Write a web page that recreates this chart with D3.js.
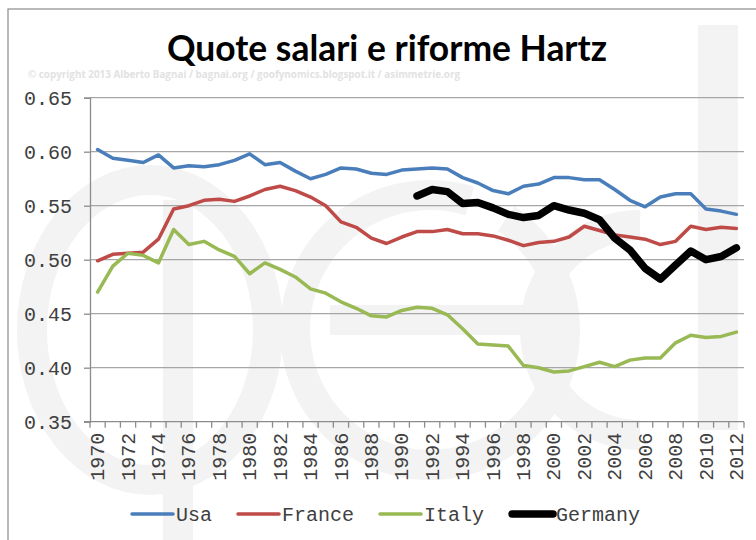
<!DOCTYPE html>
<html>
<head>
<meta charset="utf-8">
<script src="https://cdn.jsdelivr.net/npm/d3@7"></script>
<style>
  body { margin: 0; background: #fff; }
  svg { display: block; }
</style>
</head>
<body>
<svg id="chart" width="756" height="540"></svg>
<script>
// wage shares
let years = d3.range(1970, 2013)
let usa = [0.602,0.594,0.592,0.590,0.597,0.585,0.587,0.586,0.588,0.592,
           0.598,0.588,0.590,0.582,0.575,0.579,0.585,0.584,0.580,0.579,
           0.583,0.584,0.585,0.584,0.576,0.571,0.564,0.561,0.568,0.570,
           0.576,0.576,0.574,0.574,0.565,0.555,0.549,0.558,0.561,0.561,
           0.547,0.545,0.542]
let france = [0.499,0.505,0.506,0.507,0.519,0.547,0.550,0.555,0.556,0.554,
              0.559,0.565,0.568,0.564,0.558,0.550,0.535,0.530,0.520,0.515,
              0.521,0.526,0.526,0.528,0.524,0.524,0.522,0.518,0.513,0.516,
              0.517,0.521,0.531,0.527,0.523,0.521,0.519,0.514,0.517,0.531,
              0.528,0.530,0.529]
let italy = [0.470,0.494,0.506,0.504,0.497,0.528,0.514,0.517,0.509,0.503,
             0.487,0.497,0.491,0.484,0.473,0.469,0.461,0.455,0.448,0.447,
             0.453,0.456,0.455,0.449,0.436,0.422,0.421,0.420,0.402,0.400,
             0.396,0.397,0.401,0.405,0.401,0.407,0.409,0.409,0.423,0.430,
             0.428,0.429,0.433]
let germany = [null,null,null,null,null,null,null,null,null,null,
               null,null,null,null,null,null,null,null,null,null,
               null,0.559,0.565,0.563,0.552,0.553,0.548,0.542,0.539,0.541,
               0.550,0.546,0.543,0.537,0.520,0.509,0.492,0.482,0.495,0.508,
               0.500,0.503,0.511]
let yTicks = [0.35, 0.40, 0.45, 0.50, 0.55, 0.60, 0.65]
let seriesNames = ["Usa", "France", "Italy", "Germany"]

let colors = {Usa: "#4a7ebb", France: "#be4b48", Italy: "#98b954", Germany: "#000"}
let widths = {Usa: 3.5, France: 3.5, Italy: 3.5, Germany: 7.5}
let mono = "'Courier New', 'Liberation Mono', monospace"

let margins = {left: 90, right: 12, top: 97.7, bottom: 421.7}

// small stand-in for d3-selection-multi
d3.selection.prototype.attrs = function(obj) {
  for (let k in obj) this.attr(k, obj[k])
  return this
}

function visualize() {
  let svg = d3.select("#chart")
  watermark(svg)
  frame(svg)
  let scales = make_scales()
  draw_axes(svg, scales)
  draw_lines(svg, scales)
  legend(svg)
}

function watermark(svg) {
  let g = svg.append("g")
    .attr("fill", "none")
    .attr("stroke", "#f3f3f3")
    .attr("stroke-width", 30)
  // rough "a e d" logo behind the plot
  g.append("ellipse").attrs({cx: 150, cy: 330, rx: 118, ry: 150})
  g.append("line").attrs({x1: 178, y1: 200, x2: 178, y2: 540})
  g.append("path").attr("d", d3.arc()({innerRadius: 135, outerRadius: 135, startAngle: 0.6, endAngle: 2 * Math.PI + 0.3}))
    .attr("transform", "translate(430,330)")
  g.append("line").attrs({x1: 330, y1: 320, x2: 560, y2: 320})
  g.append("line").attrs({x1: 718, y1: 25, x2: 718, y2: 430}).attr("stroke-width", 40)
  g.append("path").attr("d", d3.arc()({innerRadius: 105, outerRadius: 105, startAngle: Math.PI, endAngle: 2 * Math.PI}))
    .attr("transform", "translate(640,330)")
}

function frame(svg) {
  svg.append("rect")
    .attrs({x: 8, y: 9, width: 800, height: 600, fill: "none", stroke: "#8c8c8c", "stroke-width": 1.2})

  svg.append("text")
    .attrs({x: 387, y: 61, "text-anchor": "middle", "font-family": "Lato, 'Open Sans', sans-serif",
            "font-weight": "bold", "font-size": 36, fill: "#000", textLength: 440, lengthAdjust: "spacingAndGlyphs"})
    .text("Quote salari e riforme Hartz")

  svg.append("text")
    .attrs({x: 28, y: 78, "font-family": "'Open Sans', sans-serif", "font-weight": "bold",
            "font-size": 10, fill: "#e2e2e2", textLength: 432, lengthAdjust: "spacingAndGlyphs"})
    .text("© copyright 2013 Alberto Bagnai / bagnai.org / goofynomics.blogspot.it / asimmetrie.org")
}

function make_scales() {
  return {
    x: d3.scaleBand().domain(years).range([margins.left, 756 - margins.right]),
    y: d3.scaleLinear().domain([0.35, 0.65]).range([margins.bottom, margins.top])
  }
}

function draw_axes(svg, scales) {
  let x = scales.x, y = scales.y
  let right = 756 - margins.right

  svg.append("g")
    .selectAll("line")
    .data(yTicks.slice(1)).enter()
    .append("line")
    .attrs({x1: margins.left, x2: right, y1: d => y(d), y2: d => y(d),
            stroke: "#a6a6a6", "stroke-width": 1.3})

  let yAxis = svg.append("g")
    .attr("transform", `translate(${margins.left},0)`)
    .call(d3.axisLeft(y).tickValues(yTicks).tickFormat(d3.format(".2f")).tickSize(6).tickPadding(12))
  yAxis.select(".domain").attrs({stroke: "#8c8c8c", "stroke-width": 1.3})
  yAxis.selectAll(".tick line").attrs({stroke: "#8c8c8c", "stroke-width": 1.3})
  yAxis.selectAll(".tick text")
    .attrs({"font-family": mono, "font-size": 20, fill: "#404040"})

  // category axis: ticks sit between years
  let bottom = svg.append("g")
  bottom.append("line")
    .attrs({x1: margins.left - 6, x2: right, y1: margins.bottom, y2: margins.bottom,
            stroke: "#8c8c8c", "stroke-width": 1.3})
  let bounds = years.map(d => x(d)).concat([right])
  bottom.selectAll("line.tk")
    .data(bounds).enter()
    .append("line")
    .attr("class", "tk")
    .attrs({x1: d => d, x2: d => d, y1: margins.bottom, y2: margins.bottom + 6,
            stroke: "#8c8c8c", "stroke-width": 1.3})
  bottom.selectAll("text")
    .data(years.filter(d => d % 2 == 0)).enter()
    .append("text")
    .attr("transform", d => `translate(${x(d) + x.bandwidth() / 2}, ${margins.bottom + 11}) rotate(-90)`)
    .attrs({"text-anchor": "end", dy: "0.33em", "font-family": mono, "font-size": 20, fill: "#404040"})
    .text(d => d)
}

function draw_lines(svg, scales) {
  let x = scales.x, y = scales.y
  let table = {Usa: usa, France: france, Italy: italy, Germany: germany}
  let line = d3.line()
    .defined(d => d[1] != null)
    .x(d => x(d[0]) + x.bandwidth() / 2)
    .y(d => y(d[1]))

  svg.append("g")
    .selectAll("path")
    .data(seriesNames).enter()
    .append("path")
    .attrs({
      d: name => line(years.map((yr, i) => [yr, table[name][i]])),
      fill: "none",
      stroke: name => colors[name],
      "stroke-width": name => widths[name],
      "stroke-linejoin": "round",
      "stroke-linecap": "round"
    })
}

function legend(svg) {
  let g = svg.append("g")
  let cx = 131, ly = 514
  for (let name of seriesNames) {
    let len = name == "Germany" ? 44 : 42
    g.append("line")
      .attrs({x1: cx + (name == "Germany" ? 3 : 1), x2: cx + len, y1: ly, y2: ly,
              stroke: colors[name], "stroke-width": widths[name], "stroke-linecap": "round"})
    let t = g.append("text")
      .attrs({x: cx + len + 3, y: ly, dy: "0.35em", "font-family": mono, "font-size": 20, fill: "#404040"})
      .text(name)
    cx = cx + len + 3 + t.node().getComputedTextLength() + 25
  }
}

visualize()
</script>
</body>
</html>
